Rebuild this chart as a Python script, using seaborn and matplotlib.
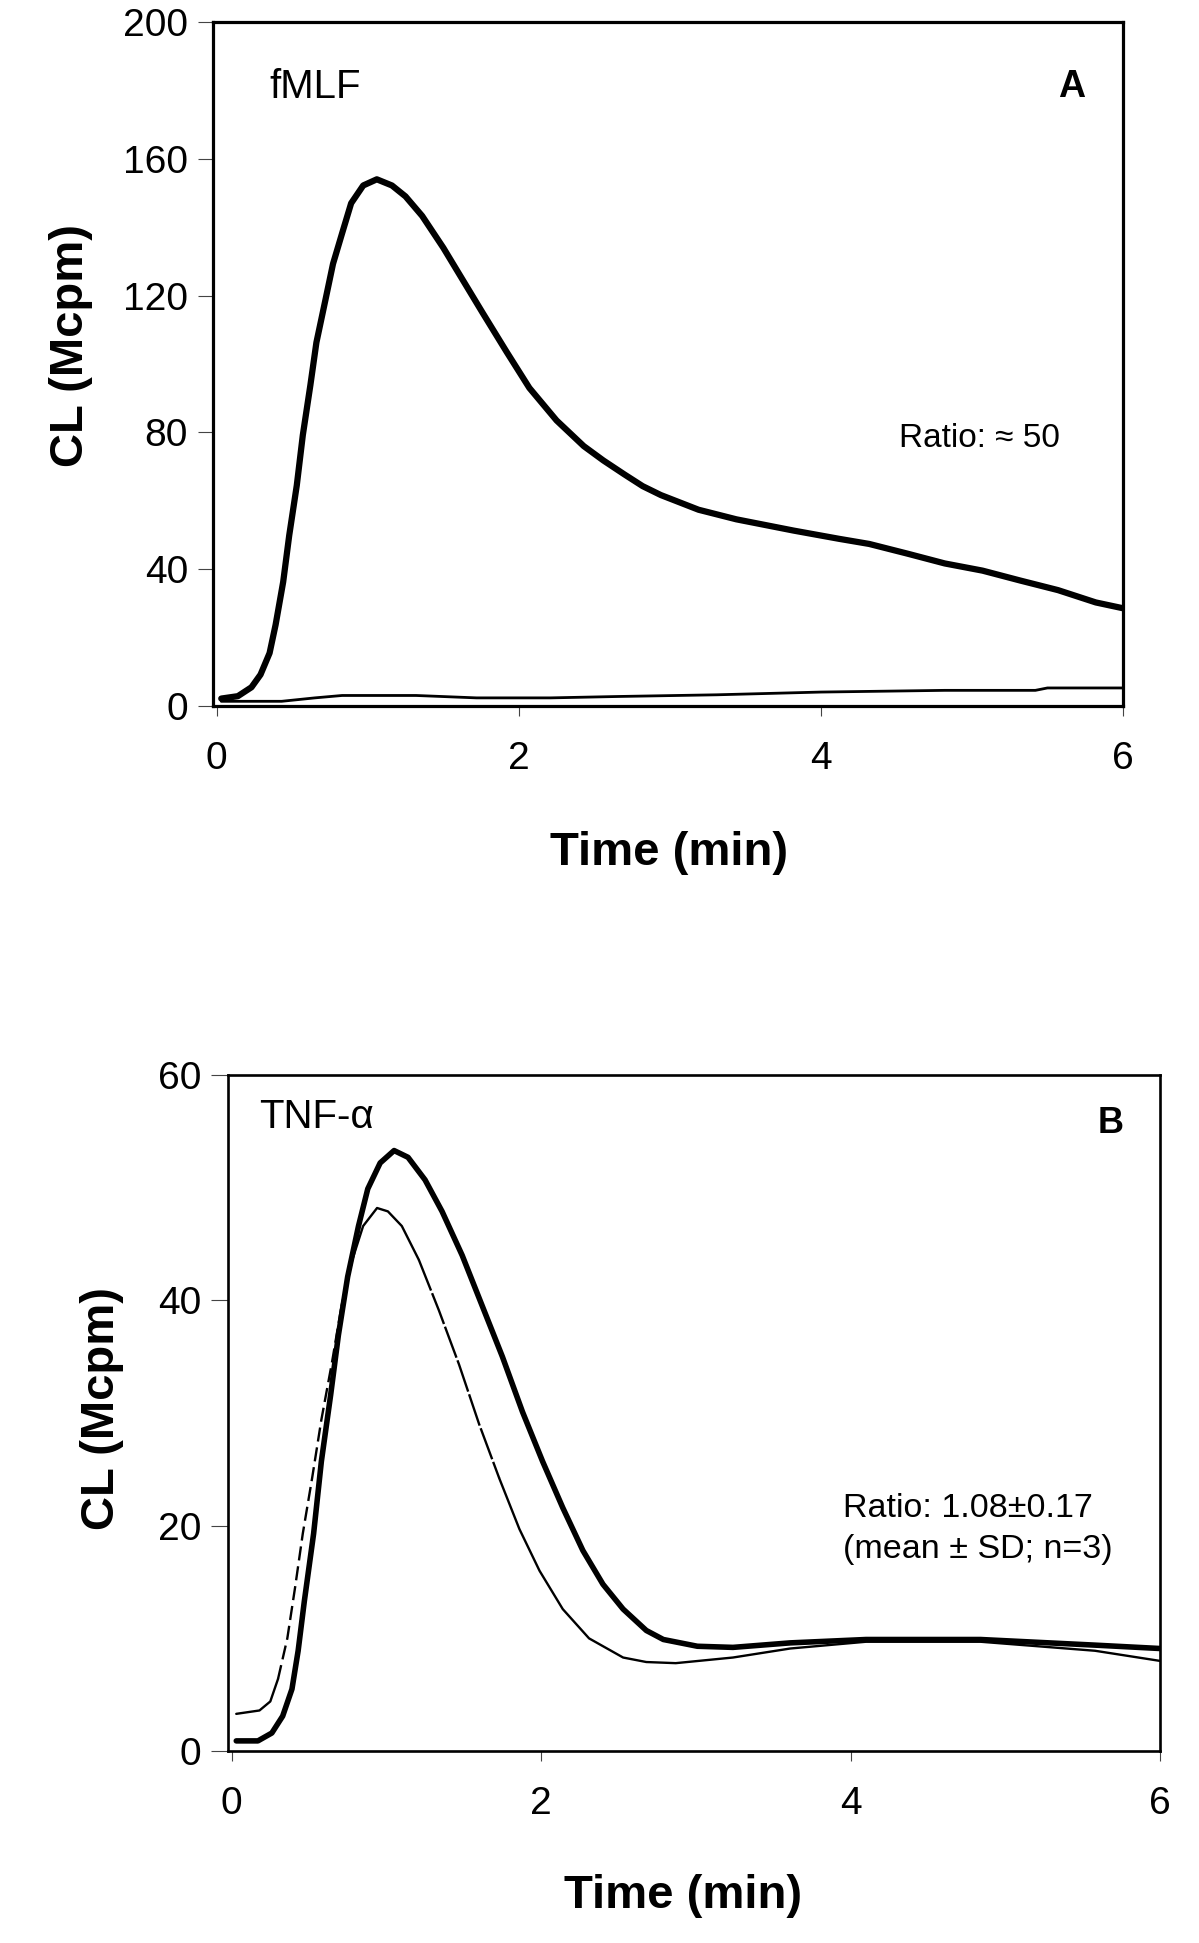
import numpy as np
import pandas as pd
import matplotlib
matplotlib.use("Agg")
import matplotlib.pyplot as plt
import seaborn as sns

sns.set_style("white")
plt.rcParams['font.family'] = ['Liberation Sans', 'DejaVu Sans']
plt.rcParams['text.color'] = 'black'
plt.rcParams['axes.labelcolor'] = 'black'

# =========================
# DATA
# =========================
# Panel A - fMLF, thick trace
a_thick_t = [0.03, 0.14, 0.23, 0.29, 0.35, 0.39, 0.44, 0.48, 0.53, 0.57, 0.62, 0.66,
             0.72, 0.77, 0.83, 0.89, 0.97, 1.06, 1.16, 1.25, 1.36, 1.50, 1.63, 1.76,
             1.92, 2.07, 2.25, 2.43, 2.56, 2.70, 2.82, 2.94, 3.19, 3.44, 3.82, 4.12,
             4.32, 4.57, 4.82, 5.07, 5.32, 5.57, 5.82, 6.00]
a_thick_cl = [2.2, 2.9, 5.5, 9.2, 15.5, 23.8, 36.3, 49.9, 64.5, 79.2, 93.8, 106.3,
              118.8, 129.3, 138.2, 147.0, 152.2, 154.0, 152.2, 149.0, 143.3, 134.0, 124.5, 115.0,
              103.5, 93.0, 83.5, 76.0, 71.8, 67.7, 64.3, 61.7, 57.4, 54.6, 51.3, 48.9,
              47.4, 44.6, 41.7, 39.6, 36.7, 33.9, 30.3, 28.6]

# Panel A - fMLF, thin trace
a_thin_t = [0.03, 0.43, 0.65, 0.83, 1.32, 1.72, 2.21, 2.65, 3.31, 4.00, 4.82, 5.42, 5.50, 6.00]
a_thin_cl = [1.4, 1.4, 2.4, 3.1, 3.1, 2.4, 2.4, 2.8, 3.3, 4.1, 4.6, 4.6, 5.3, 5.3]

# Panel B - TNF-alpha, thick trace
b_thick_t = [0.03, 0.17, 0.26, 0.33, 0.39, 0.43, 0.47, 0.53, 0.58, 0.64, 0.69, 0.75,
             0.82, 0.88, 0.96, 1.05, 1.14, 1.25, 1.36, 1.49, 1.62, 1.75, 1.88, 2.01,
             2.14, 2.27, 2.40, 2.53, 2.68, 2.79, 3.01, 3.24, 3.61, 4.10, 4.84, 5.58, 6.00]
b_thick_cl = [0.9, 0.9, 1.6, 3.1, 5.5, 8.9, 13.3, 19.3, 25.7, 31.6, 36.9, 42.1,
              46.6, 49.9, 52.2, 53.3, 52.7, 50.7, 47.9, 44.0, 39.5, 35.0, 30.1, 25.7,
              21.6, 17.8, 14.8, 12.6, 10.7, 9.9, 9.3, 9.2, 9.6, 9.9, 9.9, 9.4, 9.1]

# Panel B - TNF-alpha, thin trace
b_thin_t = [0.03, 0.18, 0.25, 0.30, 0.36, 0.41, 0.46, 0.52, 0.58, 0.65, 0.71, 0.78,
            0.85, 0.94, 1.01, 1.10, 1.21, 1.34, 1.47, 1.60, 1.73, 1.86, 1.99, 2.14,
            2.31, 2.53, 2.68, 2.87, 3.24, 3.61, 4.10, 4.84, 5.58, 6.00]
b_thin_cl = [3.3, 3.6, 4.4, 6.4, 10.0, 14.5, 19.3, 24.2, 29.4, 34.6, 39.5, 43.6,
             46.6, 48.2, 47.9, 46.6, 43.6, 39.1, 34.3, 29.0, 24.2, 19.7, 16.0, 12.6,
             10.0, 8.3, 7.9, 7.8, 8.3, 9.1, 9.7, 9.7, 8.9, 8.0]
# parts of the thin B trace are printed broken (dashed)
b_dash_rise = (0.30, 0.71)
b_dash_fall = (1.21, 1.73)

x_ticks = [0, 2, 4, 6]
a_y_ticks = [0, 40, 80, 120, 160, 200]
b_y_ticks = [0, 20, 40, 60]

df_a_thick = pd.DataFrame({'t': a_thick_t, 'cl': a_thick_cl})
df_a_thin = pd.DataFrame({'t': a_thin_t, 'cl': a_thin_cl})
df_b_thick = pd.DataFrame({'t': b_thick_t, 'cl': b_thick_cl})
df_b_thin = pd.DataFrame({'t': b_thin_t, 'cl': b_thin_cl})

# =========================
# FIGURE
# =========================
fig = plt.figure(figsize=(11.99, 19.43), dpi=100)
ax_a = fig.add_axes([0.1776, 0.6366, 0.759, 0.3521])
ax_b = fig.add_axes([0.1902, 0.0988, 0.7773, 0.3479])


def style_axes(ax, yticks, ylim, spine_w, ylen):
    ax.set_xlim(-0.025, 6)
    ax.set_ylim(*ylim)
    ax.set_xticks(x_ticks)
    ax.set_yticks(yticks)
    ax.set_xticklabels([str(v) for v in x_ticks])
    ax.set_yticklabels([str(v) for v in yticks])
    for s in ax.spines.values():
        s.set_visible(True)
        s.set_linewidth(spine_w)
        s.set_color('black')
    ax.tick_params(axis='y', direction='out', length=ylen, width=0.8,
                   color='#444444', labelcolor='black', pad=7, labelsize=28, left=True)
    ax.tick_params(axis='x', direction='out', length=7, width=0.8,
                   color='#444444', labelcolor='black', pad=18, labelsize=28, bottom=True)
    ax.grid(False)


# =========================
# PANEL A - fMLF
# =========================
sns.lineplot(data=df_a_thick, x='t', y='cl', ax=ax_a, color='black',
             linewidth=4.5, sort=False, estimator=None)
sns.lineplot(data=df_a_thin, x='t', y='cl', ax=ax_a, color='black',
             linewidth=2.0, sort=False, estimator=None)
style_axes(ax_a, a_y_ticks, (0, 200), 2.3, 11)
ax_a.set_xlabel("Time (min)", fontsize=34, fontweight='bold')
ax_a.set_ylabel("CL (Mcpm)", fontsize=34, fontweight='bold')
ax_a.yaxis.set_label_coords(-0.132, 0.527)
ax_a.xaxis.set_label_coords(0.501, -0.183)
ax_a.text(0.35, 181, "fMLF", fontsize=29, va='center', ha='left')
ax_a.text(5.66, 181, "A", fontsize=27, fontweight='bold', va='center', ha='center')
ax_a.text(4.52, 78.3, "Ratio: \u2248 50", fontsize=24, va='center', ha='left')

# =========================
# PANEL B - TNF-alpha
# =========================
sns.lineplot(data=df_b_thick, x='t', y='cl', ax=ax_b, color='black',
             linewidth=4.0, sort=False, estimator=None)
t = df_b_thin['t']
parts = [
    (df_b_thin[t <= b_dash_rise[0]], '-'),
    (df_b_thin[(t >= b_dash_rise[0]) & (t <= b_dash_rise[1])], (0, (6, 2.5))),
    (df_b_thin[(t >= b_dash_rise[1]) & (t <= b_dash_fall[0])], '-'),
    (df_b_thin[(t >= b_dash_fall[0]) & (t <= b_dash_fall[1])], (0, (14, 1.2))),
    (df_b_thin[t >= b_dash_fall[1]], '-'),
]
for part, ls in parts:
    sns.lineplot(data=part, x='t', y='cl', ax=ax_b, color='black',
                 linewidth=1.7, linestyle=ls, sort=False, estimator=None)
style_axes(ax_b, b_y_ticks, (0, 60), 1.9, 12.5)
ax_b.set_xlim(-0.023, 6)
ax_b.set_xlabel("Time (min)", fontsize=34, fontweight='bold')
ax_b.set_ylabel("CL (Mcpm)", fontsize=34, fontweight='bold')
ax_b.yaxis.set_label_coords(-0.1116, 0.507)
ax_b.xaxis.set_label_coords(0.4877, -0.182)
ax_b.text(0.18, 56.3, "TNF-\u03b1", fontsize=29, va='center', ha='left')
ax_b.text(5.68, 55.7, "B", fontsize=26, fontweight='bold', va='center', ha='center')
ax_b.text(3.95, 21.5, "Ratio: 1.08\u00b10.17", fontsize=24.5, va='center', ha='left')
ax_b.text(3.95, 17.9, "(mean \u00b1 SD; n=3)", fontsize=24.5, va='center', ha='left')

fig.savefig("out.png", dpi=100, facecolor='white')
